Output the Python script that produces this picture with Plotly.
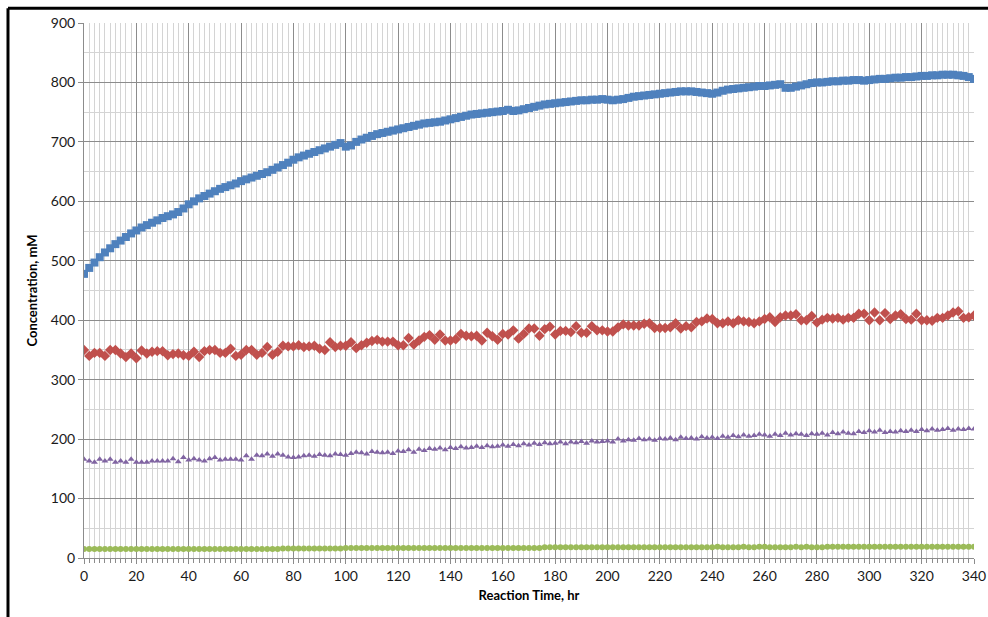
import plotly.graph_objects as go

# Reaction time (hr), sampled every 2 hr
time_hr = list(range(0, 341, 2))

blue_series = [
    478, 488, 497, 506, 514, 521, 528, 534, 540, 546,
    551, 556, 560, 564, 568, 572, 575, 578, 582, 588,
    595, 600, 605, 609, 613, 617, 621, 624, 627, 630,
    634, 637, 640, 643, 646, 649, 653, 657, 661, 665,
    670, 674, 677, 680, 683, 686, 689, 692, 695, 698,
    692, 694, 700, 704, 707, 710, 713, 715, 717, 719,
    721, 723, 725, 727, 729, 731, 732, 733, 734, 736,
    738, 740, 742, 744, 746, 747, 748, 749, 750, 751,
    752, 754, 752, 753, 755, 757, 759, 761, 763, 764,
    765, 766, 767, 768, 769, 770, 770, 771, 771, 772,
    771, 770, 771, 772, 774, 776, 777, 778, 779, 780,
    781, 782, 783, 784, 785, 785, 785, 784, 783, 782,
    781, 783, 786, 788, 789, 790, 791, 792, 793, 794,
    794, 795, 796, 797, 791, 791, 793, 795, 797, 799,
    800, 800, 801, 802, 802, 803, 803, 804, 804, 803,
    804, 805, 806, 806, 807, 808, 808, 809, 809, 810,
    811, 811, 812, 812, 813, 813, 813, 812, 811, 809,
    806,
]

red_series = [
    350, 340, 345, 345, 340, 350, 350, 344, 338, 344,
    336, 349, 344, 347, 348, 348, 341, 343, 344, 341,
    340, 347, 338, 348, 350, 350, 345, 345, 352, 340,
    342, 350, 350, 342, 345, 355, 342, 347, 357, 356,
    356, 358, 355, 356, 357, 352, 350, 363, 355, 357,
    357, 363, 353, 358, 362, 365, 367,
    364, 364, 364, 358, 358, 370, 359, 366, 372, 375,
    367, 376, 366, 366, 368, 377, 374, 373, 374, 366,
    379, 373, 367, 377, 376, 383, 369, 377, 386, 386,
    374, 385, 389, 376, 382, 382, 380, 390, 379, 379,
    390, 383, 383, 381, 381, 388, 393, 391, 391, 391,
    394, 395, 387, 387, 387, 388, 395,
    386, 390, 388, 397, 398, 403, 402, 395, 395, 398,
    395, 400, 398, 397, 395, 398, 402, 405, 397, 405,
    408, 408, 410, 400, 400, 407, 396, 401, 404, 403,
    404, 401, 404, 404, 411, 411, 400, 413, 400, 412,
    402, 408, 410, 402, 401, 411, 400, 400, 399, 404,
    404, 408, 413, 415, 404, 405, 408,
]

purple_series = [
    166, 163, 161, 166, 163, 166, 161, 163, 161, 166,
    161, 161, 161, 163, 163, 163, 163, 167, 162, 169,
    165, 167, 165, 163, 167, 169, 165, 166, 166, 166,
    165, 172, 166, 173, 172, 175, 171, 175, 173, 170,
    169, 170, 172, 173, 171, 174, 173, 172, 175, 174,
    173, 176, 178, 177, 175, 179, 178, 177, 178, 176,
    180, 179, 182, 178, 183, 181, 184, 183, 185, 182,
    186, 184, 187, 185, 186, 188, 186, 189, 187, 188,
    190, 188, 191, 189, 192, 190, 193, 191, 194, 192,
    193, 195, 192, 195, 194, 196, 193, 197, 195, 196,
    197, 195, 200, 197, 199, 198, 201, 199, 200, 198,
    201, 200, 202, 199, 203, 201, 202, 200, 204, 202,
    203, 201, 205, 203, 206, 204, 207, 205, 206, 208,
    207, 205, 208, 206, 210, 207, 209, 208, 206, 209,
    208, 210, 207, 211, 209, 212, 210, 209, 213, 211,
    214, 212, 215, 211, 213, 212, 214, 213, 215, 213,
    216, 214, 217, 215, 216, 218, 215, 217, 216, 218,
    217,
]

green_series = [
    15, 15, 15, 15, 15, 15, 15, 15, 15, 15,
    15, 15, 15, 15, 15, 15, 15, 15, 15, 15,
    15, 15, 15, 15, 15, 15, 15, 15, 15, 15,
    15, 15, 15, 15, 15, 15, 15, 15, 16, 16,
    16, 16, 16, 16, 16, 16, 16, 16, 16, 16,
    17, 17, 17, 17, 17, 17, 17, 17, 17, 17,
    17, 17, 17, 17, 17, 17, 17, 17, 17, 17,
    17, 17, 17, 17, 17, 17, 17, 17, 17, 17,
    17, 17, 17, 17, 17, 17, 17, 17, 18, 18,
    18, 18, 18, 18, 18, 18, 18, 18, 18, 18,
    18, 18, 18, 18, 18, 18, 18, 18, 18, 18,
    18, 18, 18, 18, 18, 18, 18, 18, 18, 18,
    18, 19, 18, 18, 18, 18, 19, 18, 18, 19,
    19, 18, 18, 18, 18, 18, 19, 18, 19, 18,
    18, 18, 19, 19, 19, 19, 19, 19, 19, 19,
    19, 19, 19, 19, 19, 19, 19, 19, 19, 19,
    19, 19, 19, 19, 19, 19, 19, 19, 19, 19,
    19,
]

x_ticks = list(range(0, 341, 20))
y_ticks = list(range(0, 901, 100))

fig = go.Figure()
fig.add_trace(go.Scatter(x=time_hr, y=green_series, mode="markers",
                         marker=dict(symbol="circle", size=6, color="#9BBB59"), showlegend=False))
fig.add_trace(go.Scatter(x=time_hr, y=purple_series, mode="markers",
                         marker=dict(symbol="triangle-up", size=6, color="#8064A2"), showlegend=False))
fig.add_trace(go.Scatter(x=time_hr, y=red_series, mode="markers",
                         marker=dict(symbol="diamond", size=8, color="#C0504D"), showlegend=False))
fig.add_trace(go.Scatter(x=time_hr, y=blue_series, mode="markers",
                         marker=dict(symbol="square", size=8, color="#4F81BD"), showlegend=False))

tick_font = dict(family="Lato, Carlito, sans-serif", size=14, color="#1a1a1a")
title_font = dict(family="Lato, Carlito, sans-serif", size=13, color="#000000")

fig.update_layout(
    width=988, height=617,
    margin=dict(l=84, r=14, t=23, b=59, autoexpand=False),
    paper_bgcolor="white", plot_bgcolor="white",
    xaxis=dict(
        range=[0, 340], tickvals=x_ticks, ticktext=[str(v) for v in x_ticks],
        automargin=False,
        showgrid=True, gridcolor="#8c8c8c", gridwidth=1,
        showline=True, linecolor="#8c8c8c", linewidth=1,
        ticks="outside", ticklen=5, tickcolor="#8c8c8c",
        minor=dict(dtick=2, tick0=0, showgrid=True, gridcolor="#d4d4d4", gridwidth=1,
                   ticks="outside", ticklen=4, tickcolor="#8c8c8c"),
        tickfont=tick_font, zeroline=False,
        title=dict(text="<b>Reaction Time, hr</b>", font=title_font, standoff=8),
    ),
    yaxis=dict(
        range=[0, 900], tickvals=y_ticks, ticktext=[str(v) for v in y_ticks],
        automargin=False,
        showgrid=True, gridcolor="#8c8c8c", gridwidth=1,
        showline=True, linecolor="#8c8c8c", linewidth=1,
        ticks="outside", ticklen=5, tickcolor="#8c8c8c",
        minor=dict(dtick=50, tick0=0, showgrid=True, gridcolor="#d4d4d4", gridwidth=1),
        tickfont=tick_font, zeroline=False,
        title=dict(text="<b>Concentration, mM</b>", font=title_font, standoff=10),
    ),
    shapes=[
        dict(type="line", xref="paper", yref="paper",
             x0=-0.0854, x1=1.2, y0=1.0277, y1=1.0277,
             line=dict(color="black", width=3)),
        dict(type="line", xref="paper", yref="paper",
             x0=-0.0854, x1=-0.0854, y0=-0.3, y1=1.0277,
             line=dict(color="black", width=3)),
    ],
)

fig.write_html("out.html")
